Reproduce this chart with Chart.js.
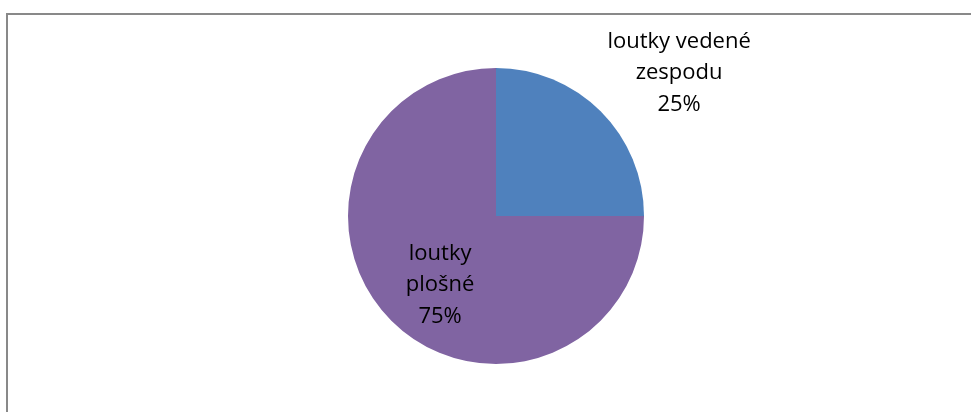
<!DOCTYPE html>
<html>
<head>
<meta charset="utf-8">
<script src="https://cdn.jsdelivr.net/npm/chart.js@4"></script>
<style>
  html, body { margin: 0; padding: 0; background: #fff; }
  #wrap { position: relative; width: 971px; height: 412px; overflow: hidden; }
  #frame { position: absolute; left: 6px; top: 13px; width: 980px; height: 420px;
           border-left: 2px solid #898989; border-top: 2px solid #898989; }
  canvas { position: absolute; left: 0; top: 0; }
</style>
</head>
<body>
<div id="wrap">
  <div id="frame"></div>
  <canvas id="pieChart" width="971" height="412"></canvas>
</div>
<script>
const labels = ["loutky vedené zespodu", "loutky plošné"];
const labelLines = [["loutky vedené", "zespodu"], ["loutky", "plošné"]];
const values = [25, 75];
const colors = ["#4F81BD", "#8064A2"];

// label placement relative to slice middle: radius factor and angle shift (deg)
const labelPlace = [
  { r: 1.57, shift: 7 },
  { r: 0.6, shift: -6 },
];

const sliceLabels = {
  id: "sliceLabels",
  afterDatasetsDraw(chart) {
    const ctx = chart.ctx;
    const meta = chart.getDatasetMeta(0);
    const total = values.reduce((a, b) => a + b, 0);
    ctx.save();
    ctx.font = "22px 'Open Sans'";
    ctx.fillStyle = "#000";
    ctx.textAlign = "center";
    ctx.textBaseline = "middle";
    meta.data.forEach((arc, i) => {
      const mid = (arc.startAngle + arc.endAngle) / 2 + labelPlace[i].shift * Math.PI / 180;
      const r = arc.outerRadius * labelPlace[i].r;
      const x = arc.x + Math.cos(mid) * r;
      const y = arc.y + Math.sin(mid) * r;
      const lines = labelLines[i].concat([Math.round(values[i] / total * 100) + "%"]);
      const lh = 31.5;
      lines.forEach((t, k) => {
        ctx.fillText(t, x, y + (k - (lines.length - 1) / 2) * lh);
      });
    });
    ctx.restore();
  },
};

new Chart(document.getElementById("pieChart").getContext("2d"), {
  type: "pie",
  data: {
    labels: labels,
    datasets: [
      {
        data: values,
        backgroundColor: colors,
        borderWidth: 0,
      },
    ],
  },
  options: {
    responsive: false,
    animation: false,
    layout: { padding: { left: 348, right: 327, top: 68, bottom: 48 } },
    plugins: {
      legend: { display: false },
      tooltip: { enabled: false },
    },
  },
  plugins: [sliceLabels],
});
</script>
</body>
</html>
